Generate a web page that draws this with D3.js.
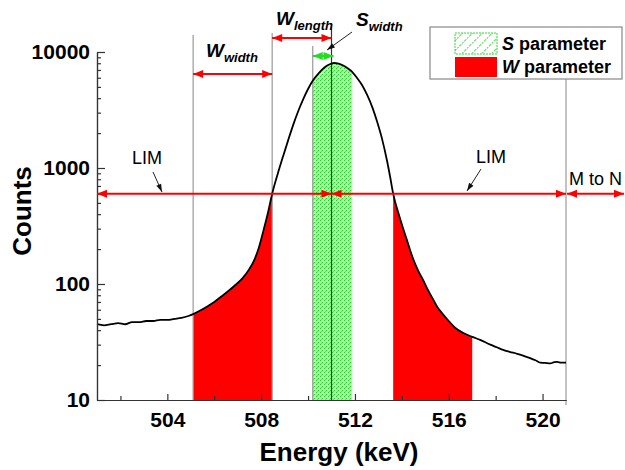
<!DOCTYPE html>
<html>
<head>
<meta charset="utf-8">
<script src="https://cdn.jsdelivr.net/npm/d3@7"></script>
<style>
  body { margin: 0; background: #fff; }
  text { font-family: Arial, "Liberation Sans", sans-serif; }
</style>
</head>
<body>
<div id="chart"></div>
<script>
// spectrum
const energy = [501.0, 501.3, 501.6, 501.9, 502.2, 502.5, 502.8, 503.1, 503.4, 503.7, 504.0, 504.3, 504.6, 504.9,
  505.1, 505.4, 505.7, 506.0, 506.3, 506.6, 506.9, 507.2, 507.5, 507.7, 507.9, 508.1, 508.3, 508.47, 508.7, 508.94,
  509.15, 509.36, 509.6, 509.8, 510.0, 510.2, 510.45, 510.7, 510.9, 511.1, 511.3, 511.5, 511.67, 511.88, 512.09, 512.3,
  512.52, 512.75, 512.95, 513.15, 513.37, 513.5, 513.63, 513.9, 514.2, 514.48, 514.7, 514.91, 515.1, 515.33, 515.52,
  515.72, 516.0, 516.27, 516.6, 517.0, 517.34, 517.77, 518.05, 518.32, 518.6, 518.92, 519.2, 519.47, 519.7, 519.9,
  520.1, 520.33, 520.5, 520.62, 520.8, 521.0];
const counts = [45, 44, 45, 46, 45, 47, 47, 48, 48, 49, 49, 50, 51, 53,
  55, 59, 64, 70, 78, 87, 98, 112, 135, 160, 205, 290, 420, 600, 880, 1270,
  1730, 2330, 3160, 3950, 4800, 5650, 6550, 7350, 7800, 8040, 7950, 7650, 7280, 6750, 5970, 5200,
  4260, 3300, 2490, 1800, 1150, 840, 600, 380, 245, 165, 130, 108, 90, 74, 63,
  56, 48, 42, 38, 35, 33, 30, 28.5, 27, 26, 25, 24, 23, 22, 21,
  20.9, 20.7, 21.2, 21.3, 21, 21];

const wRegions = [[505.1, 508.47], [513.63, 517.0]];
const sRegion = [510.2, 511.88];
const peakE = 511.0;
const limitE = 521.0;
const limCount = 600;

const xMajor = [504, 508, 512, 516, 520];
const xMinor = [502, 506, 510, 514, 518];
const yMajor = [10, 100, 1000, 10000];
const yMinor = [20, 30, 40, 50, 60, 70, 80, 90, 200, 300, 400, 500, 600, 700, 800, 900,
  2000, 3000, 4000, 5000, 6000, 7000, 8000, 9000];

const data = energy.map((e, i) => ({e: e, c: counts[i]}));

const width = 625, height = 470;
const svg = d3.select("#chart").append("svg")
    .attr("width", width)
    .attr("height", height);

const x = d3.scaleLinear().domain([501, 521]).range([97, 566]);
const y = d3.scaleLog().domain([10, 10000]).range([400, 52]);

const defs = svg.append("defs");
const speckle = defs.append("pattern")
    .attr("id", "speckle")
    .attr("patternUnits", "userSpaceOnUse")
    .attr("width", 4).attr("height", 4);
speckle.append("rect").attr("width", 4).attr("height", 4).attr("fill", "#a6f5a6");
[[0, 0, "#22d022"], [2, 2, "#22d022"], [3, 0, "#dcffdc"], [1, 3, "#55e055"], [2, 1, "#dcffdc"]].forEach(p => {
  speckle.append("rect").attr("x", p[0]).attr("y", p[1]).attr("width", 1).attr("height", 1).attr("fill", p[2]);
});

const hatch = defs.append("pattern")
    .attr("id", "hatch")
    .attr("patternUnits", "userSpaceOnUse")
    .attr("width", 7).attr("height", 7)
    .attr("patternTransform", "rotate(45)");
hatch.append("rect").attr("width", 7).attr("height", 7).attr("fill", "#fff");
hatch.append("line").attr("x1", 0).attr("y1", 0).attr("x2", 0).attr("y2", 7)
    .attr("stroke", "#00cc00").attr("stroke-width", 1.4).attr("stroke-dasharray", "2,1");

const area = d3.area()
    .x(d => x(d.e))
    .y0(y(10))
    .y1(d => y(d.c))
    .curve(d3.curveMonotoneX);
const line = d3.line()
    .x(d => x(d.e))
    .y(d => y(d.c))
    .curve(d3.curveMonotoneX);

// W regions
svg.selectAll(".w-area")
    .data(wRegions)
  .enter()
    .append("path")
    .attr("class", "w-area")
    .attr("d", r => area(data.filter(d => d.e >= r[0] - 1e-6 && d.e <= r[1] + 1e-6)))
    .attr("fill", "#ff0000");

// S region
svg.append("path")
    .attr("d", area(data.filter(d => d.e >= sRegion[0] - 1e-6 && d.e <= sRegion[1] + 1e-6)))
    .attr("fill", "url(#speckle)");

// vertical guide lines
const guides = [
  {e: wRegions[0][0], top: 35, color: "#9a9a9a"},
  {e: wRegions[0][1], top: 33, color: "#9a9a9a"},
  {e: sRegion[0], top: 46, color: "#9a9a9a"},
  {e: peakE, top: 23, color: "#333"},
  {e: limitE, top: 79, color: "#9a9a9a", bottom: 405}
];
svg.selectAll(".guide")
    .data(guides)
  .enter()
    .append("line")
    .attr("x1", d => x(d.e)).attr("x2", d => x(d.e))
    .attr("y1", d => d.top).attr("y2", d => d.bottom || y(10))
    .attr("stroke", d => d.color)
    .attr("stroke-width", 1.2);

// spectrum
svg.append("path")
    .attr("d", line(data))
    .attr("fill", "none")
    .attr("stroke", "#000")
    .attr("stroke-width", 1.8);

// axes
const axisColor = "#333";
function styleAxis(g) {
  g.selectAll("path, line").attr("stroke", axisColor).attr("stroke-width", 1.2);
  g.selectAll("text")
      .attr("fill", "#000")
      .style("font-family", "Arial, 'Liberation Sans', sans-serif")
      .style("font-size", "21px")
      .style("font-weight", "bold");
}
svg.append("g")
    .attr("transform", "translate(0," + y(10) + ")")
    .call(d3.axisBottom(x).tickValues(xMinor).tickSize(-4).tickSizeOuter(0).tickFormat(""))
    .call(styleAxis);
svg.append("g")
    .attr("transform", "translate(0," + y(10) + ")")
    .call(d3.axisBottom(x).tickValues(xMajor).tickSize(-6).tickSizeOuter(0).tickPadding(12).tickFormat(d3.format("d")))
    .call(styleAxis);
svg.append("g")
    .attr("transform", "translate(" + x(501) + ",0)")
    .call(d3.axisLeft(y).tickValues(yMinor).tickSize(-4).tickSizeOuter(0).tickFormat(""))
    .call(styleAxis);
svg.append("g")
    .attr("transform", "translate(" + x(501) + ",0)")
    .call(d3.axisLeft(y).tickValues(yMajor).tickSize(-8).tickSizeOuter(0).tickPadding(7).tickFormat(d3.format("d")))
    .call(styleAxis);

svg.append("text")
    .attr("transform", "translate(31,211) rotate(-90)")
    .attr("text-anchor", "middle")
    .style("font-size", "26px").style("font-weight", "bold")
    .text("Counts");
svg.append("text")
    .attr("x", 339).attr("y", 461)
    .attr("text-anchor", "middle")
    .style("font-size", "26px").style("font-weight", "bold")
    .text("Energy (keV)");

// arrows
function head(g, xTip, yTip, dir, color, len, half) {
  const bx = xTip - len * Math.cos(dir), by = yTip - len * Math.sin(dir);
  const px = -Math.sin(dir) * half, py = Math.cos(dir) * half;
  g.append("path")
      .attr("d", "M" + xTip + "," + yTip + "L" + (bx + px) + "," + (by + py) + "L" + (bx - px) + "," + (by - py) + "Z")
      .attr("fill", color);
}
function dblArrow(x1, x2, yy, color) {
  const g = svg.append("g");
  g.append("line").attr("x1", x1).attr("x2", x2).attr("y1", yy).attr("y2", yy)
      .attr("stroke", color).attr("stroke-width", 2);
  head(g, x1, yy, Math.PI, color, 10, 4);
  head(g, x2, yy, 0, color, 10, 4);
}
function pointer(x1, y1, x2, y2) {
  const g = svg.append("g");
  g.append("line").attr("x1", x1).attr("y1", y1).attr("x2", x2).attr("y2", y2)
      .attr("stroke", "#222").attr("stroke-width", 1);
  head(g, x2, y2, Math.atan2(y2 - y1, x2 - x1), "#111", 8, 2.6);
}

const red = "#ff0000";
dblArrow(x(wRegions[0][0]), x(wRegions[0][1]), 74, red);
dblArrow(x(wRegions[0][1]), x(peakE), 38, red);
dblArrow(x(sRegion[0]), x(peakE) + 2, 56, "#22dd22");
dblArrow(x(501), x(peakE), y(limCount), red);
dblArrow(x(peakE), x(limitE), y(limCount), red);
dblArrow(x(limitE) + 1, 624, y(limCount), red);

pointer(153, 172, 162, 192);
pointer(481, 169, 467, 191);
pointer(352, 32, 327, 50);

// labels
function subLabel(xx, yy, main, sub) {
  const t = svg.append("text").attr("x", xx).attr("y", yy)
      .style("font-weight", "bold").style("font-style", "italic");
  t.append("tspan").style("font-size", "19px").text(main);
  t.append("tspan").style("font-size", "13px").attr("dy", 5).text(sub);
}
subLabel(206, 57, "W", "width");
subLabel(276, 25, "W", "length");
subLabel(356, 26, "S", "width");

svg.append("text").attr("x", 147).attr("y", 164).attr("text-anchor", "middle")
    .style("font-size", "18px").text("LIM");
svg.append("text").attr("x", 491).attr("y", 163).attr("text-anchor", "middle")
    .style("font-size", "18px").text("LIM");
svg.append("text").attr("x", 569).attr("y", 185)
    .style("font-size", "18px").text("M to N");

// legend
const legend = svg.append("g");
legend.append("rect")
    .attr("x", 430).attr("y", 27).attr("width", 192).attr("height", 52)
    .attr("fill", "#fff").attr("stroke", "#888").attr("stroke-width", 1.2);
legend.append("rect")
    .attr("x", 455).attr("y", 33).attr("width", 42).attr("height", 21)
    .attr("fill", "url(#hatch)").attr("stroke", "#33dd33").attr("stroke-dasharray", "2,1");
legend.append("rect")
    .attr("x", 455).attr("y", 57).attr("width", 42).attr("height", 20)
    .attr("fill", red);
[["S", " parameter", 50], ["W", " parameter", 73]].forEach(d => {
  const t = legend.append("text").attr("x", 502).attr("y", d[2])
      .style("font-size", "18px").style("font-weight", "bold");
  t.append("tspan").style("font-style", "italic").text(d[0]);
  t.append("tspan").text(d[1]);
});
</script>
</body>
</html>
